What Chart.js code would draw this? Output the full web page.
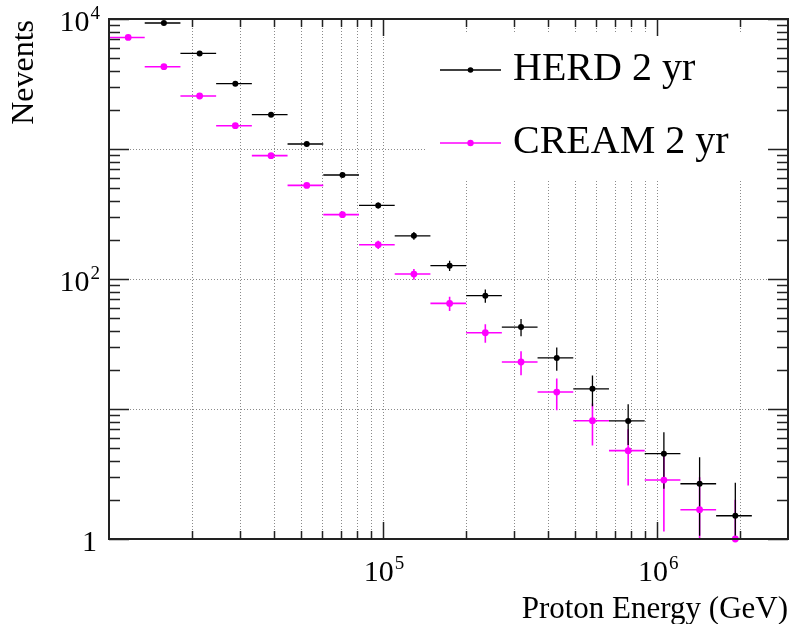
<!DOCTYPE html>
<html>
<head>
<meta charset="utf-8">
<script src="https://cdn.jsdelivr.net/npm/chart.js@4.4.0/dist/chart.umd.min.js"></script>
<style>
  html, body { margin:0; padding:0; background:#fff; }
</style>
</head>
<body>
<canvas id="spectrum" width="792" height="624"></canvas>
<script>
// energy bins (GeV), equal steps in ln E
const binLow    = [10000,13499,18221,24596,33201,44817,60496,81662,110232,148797,200855,271126,365982,494024,666863,900171,1215104,1640232];
const binHigh   = [13499,18221,24596,33201,44817,60496,81662,110232,148797,200855,271126,365982,494024,666863,900171,1215104,1640232,2214064];
const binCenter = [11750,15860,21408,28898,39009,52656,71079,95947,129514,174826,235990,318554,430003,580443,783517,1057637,1427668,1927148];

// counts (null = no point in that bin)
const herdCounts  = [null,9312,5436,3178,1836,1093,631,368,215,126.6,74.4,42.7,24.7,14.3,8.09,4.53,2.66,1.51];
const herdErr     = [null,96.5,73.7,56.4,42.8,33.1,25.1,19.2,14.7,11.3,8.6,6.5,5.0,3.8,2.8,2.1,1.6,1.2];
const creamCounts = [7215,4297,2557,1511,889,525,312.5,183.6,109.2,64.9,38.6,23.0,13.5,8.13,4.78,2.84,1.68,1.0];
const creamErr    = [84.9,65.6,50.6,38.9,29.8,22.9,17.7,13.5,10.4,8.1,6.2,4.8,3.7,2.9,2.2,1.7,1.3,1.0];

const seriesNames  = ['HERD 2 yr','CREAM 2 yr'];
const seriesColors = ['#000000','#ff00ff'];

// axis ticks / labels
const xMajor = [1e5, 1e6];
const xMinorMult = [2,3,4,5,6,7,8,9];
const xDecades = [1e4, 1e5, 1e6];
const yMajor = [1, 10, 100, 1000, 10000];
const yGridVals = [10, 100, 1000];
const yLabels = [[1,'1',''],[100,'10','2'],[10000,'10','4']];
const xLabels = [[1e5,'10','5'],[1e6,'10','6']];
const xTitle = 'Proton Energy (GeV)';
const yTitle = 'Nevents';

const SERIF = "'Liberation Serif', 'DejaVu Serif', serif";

function toPoints(counts){
  const pts = [];
  counts.forEach((c,i)=>{ if (c !== null) pts.push({x:binCenter[i], y:c}); });
  return pts;
}

const xMinor = [];
xDecades.forEach(d => xMinorMult.forEach(m => { if (d*m < 3e6) xMinor.push(d*m); }));
const yMinor = [];
[1,10,100,1000].forEach(d => xMinorMult.forEach(m => yMinor.push(d*m)));

function powLabel(ctx, base, exp, x, y, align){
  ctx.font = '30px ' + SERIF;
  const wb = ctx.measureText(base).width;
  ctx.font = '19px ' + SERIF;
  const we = exp ? ctx.measureText(exp).width + 1 : 0;
  const w = wb + we;
  let left = align === 'right' ? x - w : x - w/2;
  ctx.textAlign = 'left'; ctx.textBaseline = 'alphabetic';
  ctx.font = '30px ' + SERIF;
  ctx.fillText(base, left, y);
  if (exp){
    ctx.font = '19px ' + SERIF;
    ctx.fillText(exp, left + wb + 1, y - 12);
  }
}

const rootFrame = {
  id:'rootFrame',
  beforeDatasetsDraw(chart){
    const {ctx, chartArea:a, scales:{x, y}} = chart;
    ctx.save();
    // dotted grid
    ctx.strokeStyle = '#8a8a8a'; ctx.lineWidth = 1; ctx.setLineDash([1,2]);
    xMinor.concat(xMajor).forEach(v=>{
      const px = Math.round(x.getPixelForValue(v)) + 0.5;
      ctx.beginPath(); ctx.moveTo(px, a.top); ctx.lineTo(px, a.bottom); ctx.stroke();
    });
    yGridVals.forEach(v=>{
      const py = Math.round(y.getPixelForValue(v)) + 0.5;
      ctx.beginPath(); ctx.moveTo(a.left, py); ctx.lineTo(a.right, py); ctx.stroke();
    });
    ctx.setLineDash([]);
    // legend box
    ctx.fillStyle = '#fff';
    ctx.fillRect(426, 33, 352, 147);

    // error bars
    const sets = [[creamCounts, creamErr, seriesColors[1], 1.6],[herdCounts, herdErr, seriesColors[0], 1.3]];
    sets.forEach(([cnt, err, col, lw])=>{
      ctx.strokeStyle = col; ctx.lineWidth = lw;
      cnt.forEach((c,i)=>{
        if (c === null) return;
        const py = y.getPixelForValue(c);
        const px = x.getPixelForValue(binCenter[i]);
        ctx.beginPath();
        ctx.moveTo(x.getPixelForValue(binLow[i]), py);
        ctx.lineTo(x.getPixelForValue(binHigh[i]), py);
        const lo = Math.max(c - err[i], y.min);
        ctx.moveTo(px, y.getPixelForValue(c + err[i]));
        ctx.lineTo(px, y.getPixelForValue(lo));
        ctx.stroke();
      });
    });
    ctx.restore();
  },
  afterDatasetsDraw(chart){
    const {ctx, chartArea:a, scales:{x, y}} = chart;
    ctx.save();
    ctx.strokeStyle = '#222'; ctx.lineWidth = 1.5;
    // ticks on all four sides
    const tick = (v, len, axis)=>{
      if (axis === 'x'){
        const px = Math.round(x.getPixelForValue(v)) + 0.5;
        ctx.beginPath();
        ctx.moveTo(px, a.bottom); ctx.lineTo(px, a.bottom - len);
        ctx.moveTo(px, a.top); ctx.lineTo(px, a.top + len);
        ctx.stroke();
      } else {
        const py = Math.round(y.getPixelForValue(v)) + 0.5;
        ctx.beginPath();
        ctx.moveTo(a.left, py); ctx.lineTo(a.left + len, py);
        ctx.moveTo(a.right, py); ctx.lineTo(a.right - len, py);
        ctx.stroke();
      }
    };
    xMinor.forEach(v=>tick(v, 8, 'x'));
    xMajor.forEach(v=>tick(v, 17, 'x'));
    yMinor.forEach(v=>tick(v, 11, 'y'));
    yMajor.forEach(v=>tick(v, 20, 'y'));
    // frame
    ctx.lineWidth = 2;
    ctx.strokeRect(a.left, a.top, a.right - a.left, a.bottom - a.top);

    // tick labels
    ctx.fillStyle = '#000';
    yLabels.forEach(([v, b, e])=>{
      powLabel(ctx, b, e, e ? 100 : 97, y.getPixelForValue(v) + 12, 'right');
    });
    xLabels.forEach(([v, b, e])=>{
      powLabel(ctx, b, e, x.getPixelForValue(v) + 1, 581, 'center');
    });

    // axis titles
    ctx.font = '31px ' + SERIF;
    ctx.textAlign = 'right'; ctx.textBaseline = 'alphabetic';
    ctx.fillText(xTitle, a.right, 618);
    ctx.save();
    ctx.translate(33, a.top + 1);
    ctx.rotate(-Math.PI/2);
    ctx.font = '32px ' + SERIF;
    ctx.fillText(yTitle, 0, 0);
    ctx.restore();

    // legend
    const rows = [[70, 80], [143, 153]];
    seriesNames.forEach((name, i)=>{
      const [ly, ty] = rows[i];
      ctx.strokeStyle = seriesColors[i]; ctx.lineWidth = 1.5;
      ctx.beginPath(); ctx.moveTo(440, ly); ctx.lineTo(501, ly); ctx.stroke();
      ctx.fillStyle = seriesColors[i];
      ctx.beginPath(); ctx.arc(470.5, ly, i ? 3.2 : 2.8, 0, Math.PI*2); ctx.fill();
      ctx.fillStyle = '#000';
      ctx.font = '40px ' + SERIF; ctx.textAlign = 'left';
      ctx.fillText(name, 513, ty);
    });
    ctx.restore();
  }
};

new Chart(document.getElementById('spectrum'), {
  type:'scatter',
  data:{
    datasets:[
      { label:seriesNames[1], data:toPoints(creamCounts), backgroundColor:seriesColors[1], borderWidth:0, pointRadius:3.4, clip:false },
      { label:seriesNames[0], data:toPoints(herdCounts),  backgroundColor:seriesColors[0], borderWidth:0, pointRadius:3, clip:false }
    ]
  },
  options:{
    responsive:false, animation:false, events:[],
    layout:{ padding:{ left:109, top:19, right:3, bottom:85 } },
    plugins:{ legend:{display:false}, tooltip:{enabled:false} },
    scales:{
      x:{ type:'logarithmic', min:1e4, max:3e6, display:false },
      y:{ type:'logarithmic', min:1, max:1e4, display:false }
    }
  },
  plugins:[rootFrame]
});
</script>
</body>
</html>
